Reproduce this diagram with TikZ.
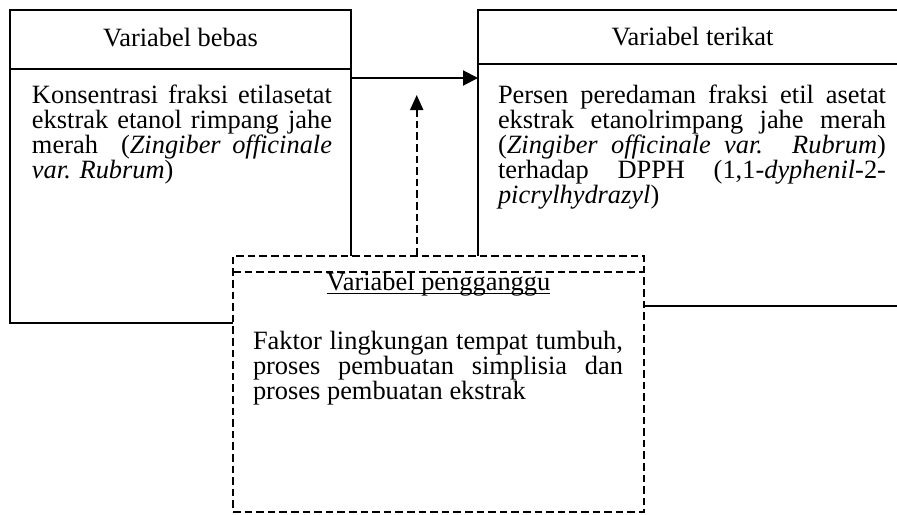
\documentclass[tikz,border=0pt]{standalone}
\usepackage{fontspec}
\setmainfont{Liberation Serif}
\usetikzlibrary{arrows.meta}
\lineskiplimit=-10pt
\hyphenpenalty=10000
\begin{document}
\begin{tikzpicture}[x=0.5pt,y=-0.5pt,
  line width=1pt,
  every node/.style={inner sep=0pt, outer sep=0pt, font=\fontsize{13.2pt}{12.5pt}\selectfont},
  boxx/.style={draw, rectangle, anchor=north west},
  dsh/.style={dash pattern=on 3.8pt off 2pt},
  dbox/.style={boxx, dsh, fill=white},
  body/.style={anchor=base west, align=justify},
  ttl/.style={anchor=base}
]
\useasboundingbox (0,0) rectangle (897,514);
\clip (0,0) rectangle (897,514);
% boxes
\node[boxx, minimum width=170.5pt, minimum height=156.5pt] (lb) at (10,10) {};
\node[boxx, minimum width=214.5pt, minimum height=148pt] (rb) at (478,10) {};
\coordinate (lh) at (0,69);
\coordinate (rh) at (0,64);
\draw (lb.west |- lh) -- (lb.east |- lh);
\draw (rb.west |- rh) -- (rb.east |- rh);
\node[ttl] (lt) at (180.5,46) {Variabel bebas};
\node[ttl] (rt) at (692.5,45) {Variabel terikat};
\node[body, text width=150pt] (lbody) at (32,103) {Konsentrasi fraksi etilasetat\linebreak ekstrak etanol rimpang jahe\linebreak merah\ \ (\textit{Zingiber officinale}\linebreak \textit{var. Rubrum})};
\node[body, text width=194pt] (rbody) at (498,103) {Persen peredaman fraksi etil asetat\linebreak ekstrak etanolrimpang jahe merah\linebreak (\textit{Zingiber officinale var. Rubrum})\linebreak terhadap DPPH (1,1-\textit{dyphenil}-2-\linebreak \textit{picrylhydrazyl})};
% main arrow
\coordinate (arr) at (0,78);
\draw[-{Triangle[length=7.5pt,width=7.5pt]}] (lb.east |- arr) -- (rb.west |- arr);
% confounding box
\node[dbox, minimum width=205.5pt, minimum height=128pt] (db) at (233,256) {};
\coordinate (dl) at (0,272);
\draw[dsh] (db.west |- dl) -- (db.east |- dl);
\coordinate (tip) at (416.7,95);
\draw[dsh, -{Triangle[length=7.5pt,width=6.5pt]}] (tip |- db.north) -- (tip);
\node[ttl] (dt) at (438.5,290) {Variabel pengganggu};
\draw[line width=0.7pt] ([yshift=-1.7pt]dt.base west) -- ([yshift=-1.7pt]dt.base east);
\node[body, text width=185pt] (dbody) at (253,349) {Faktor lingkungan tempat tumbuh,\linebreak proses pembuatan simplisia dan\linebreak proses pembuatan ekstrak};
\end{tikzpicture}
\end{document}
